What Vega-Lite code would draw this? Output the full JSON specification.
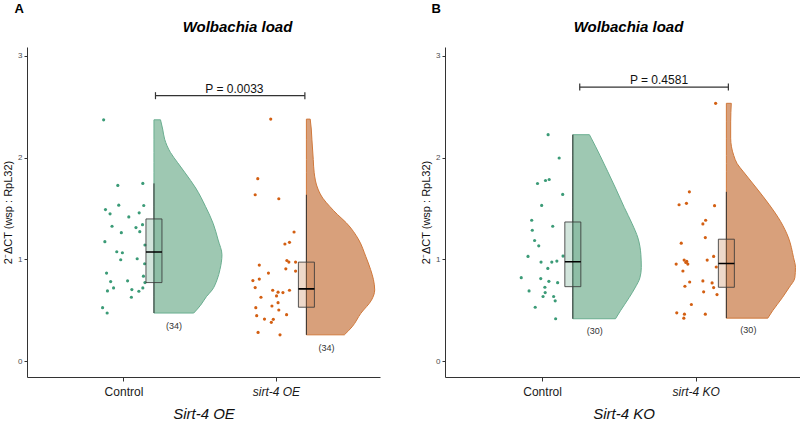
{
  "$schema": "https://vega.github.io/schema/vega-lite/v6.json",
  "background": "white",
  "padding": {"left": 2, "top": 3, "right": 2, "bottom": 2},
  "spacing": 40,
  "config": {
    "view": {"stroke": null},
    "font": "Liberation Sans",
    "axis": {"domainColor": "#333333", "tickColor": "#333333", "grid": false, "labelFont": "Liberation Sans", "titleFont": "Liberation Sans", "titleColor": "#111111"},
    "title": {"font": "Liberation Sans", "color": "#000000"}
  },
  "resolve": {"scale": {"x": "independent", "y": "independent", "color": "independent", "fill": "independent"}},
  "datasets": {
    "points": [
      {"panel": "A", "group": "Control", "jitter_x": 0.870, "y": 2.370},
      {"panel": "A", "group": "Control", "jitter_x": 0.963, "y": 1.726},
      {"panel": "A", "group": "Control", "jitter_x": 1.127, "y": 1.746},
      {"panel": "A", "group": "Control", "jitter_x": 0.969, "y": 1.532},
      {"panel": "A", "group": "Control", "jitter_x": 1.133, "y": 1.529},
      {"panel": "A", "group": "Control", "jitter_x": 0.882, "y": 1.489},
      {"panel": "A", "group": "Control", "jitter_x": 0.912, "y": 1.447},
      {"panel": "A", "group": "Control", "jitter_x": 1.103, "y": 1.457},
      {"panel": "A", "group": "Control", "jitter_x": 1.035, "y": 1.417},
      {"panel": "A", "group": "Control", "jitter_x": 1.125, "y": 1.341},
      {"panel": "A", "group": "Control", "jitter_x": 0.925, "y": 1.325},
      {"panel": "A", "group": "Control", "jitter_x": 1.082, "y": 1.312},
      {"panel": "A", "group": "Control", "jitter_x": 1.107, "y": 1.272},
      {"panel": "A", "group": "Control", "jitter_x": 0.986, "y": 1.262},
      {"panel": "A", "group": "Control", "jitter_x": 0.878, "y": 1.174},
      {"panel": "A", "group": "Control", "jitter_x": 1.141, "y": 1.141},
      {"panel": "A", "group": "Control", "jitter_x": 0.956, "y": 1.075},
      {"panel": "A", "group": "Control", "jitter_x": 0.993, "y": 1.065},
      {"panel": "A", "group": "Control", "jitter_x": 1.090, "y": 1.006},
      {"panel": "A", "group": "Control", "jitter_x": 0.982, "y": 0.996},
      {"panel": "A", "group": "Control", "jitter_x": 1.139, "y": 0.957},
      {"panel": "A", "group": "Control", "jitter_x": 0.889, "y": 0.865},
      {"panel": "A", "group": "Control", "jitter_x": 1.131, "y": 0.835},
      {"panel": "A", "group": "Control", "jitter_x": 0.916, "y": 0.782},
      {"panel": "A", "group": "Control", "jitter_x": 1.027, "y": 0.789},
      {"panel": "A", "group": "Control", "jitter_x": 1.141, "y": 0.772},
      {"panel": "A", "group": "Control", "jitter_x": 0.935, "y": 0.720},
      {"panel": "A", "group": "Control", "jitter_x": 1.127, "y": 0.720},
      {"panel": "A", "group": "Control", "jitter_x": 0.895, "y": 0.690},
      {"panel": "A", "group": "Control", "jitter_x": 1.055, "y": 0.703},
      {"panel": "A", "group": "Control", "jitter_x": 1.101, "y": 0.687},
      {"panel": "A", "group": "Control", "jitter_x": 1.052, "y": 0.628},
      {"panel": "A", "group": "Control", "jitter_x": 0.863, "y": 0.526},
      {"panel": "A", "group": "Control", "jitter_x": 0.893, "y": 0.473},
      {"panel": "A", "group": "Mutant", "jitter_x": 1.966, "y": 2.377},
      {"panel": "A", "group": "Mutant", "jitter_x": 1.881, "y": 1.792},
      {"panel": "A", "group": "Mutant", "jitter_x": 1.864, "y": 1.634},
      {"panel": "A", "group": "Mutant", "jitter_x": 2.019, "y": 1.595},
      {"panel": "A", "group": "Mutant", "jitter_x": 2.119, "y": 1.269},
      {"panel": "A", "group": "Mutant", "jitter_x": 2.089, "y": 1.167},
      {"panel": "A", "group": "Mutant", "jitter_x": 2.059, "y": 1.151},
      {"panel": "A", "group": "Mutant", "jitter_x": 2.072, "y": 0.989},
      {"panel": "A", "group": "Mutant", "jitter_x": 2.085, "y": 0.973},
      {"panel": "A", "group": "Mutant", "jitter_x": 2.129, "y": 0.973},
      {"panel": "A", "group": "Mutant", "jitter_x": 1.891, "y": 0.944},
      {"panel": "A", "group": "Mutant", "jitter_x": 2.065, "y": 0.907},
      {"panel": "A", "group": "Mutant", "jitter_x": 2.129, "y": 0.885},
      {"panel": "A", "group": "Mutant", "jitter_x": 1.951, "y": 0.865},
      {"panel": "A", "group": "Mutant", "jitter_x": 1.891, "y": 0.806},
      {"panel": "A", "group": "Mutant", "jitter_x": 1.849, "y": 0.792},
      {"panel": "A", "group": "Mutant", "jitter_x": 1.864, "y": 0.723},
      {"panel": "A", "group": "Mutant", "jitter_x": 1.979, "y": 0.697},
      {"panel": "A", "group": "Mutant", "jitter_x": 2.014, "y": 0.678},
      {"panel": "A", "group": "Mutant", "jitter_x": 2.046, "y": 0.674},
      {"panel": "A", "group": "Mutant", "jitter_x": 2.089, "y": 0.697},
      {"panel": "A", "group": "Mutant", "jitter_x": 2.004, "y": 0.641},
      {"panel": "A", "group": "Mutant", "jitter_x": 1.902, "y": 0.628},
      {"panel": "A", "group": "Mutant", "jitter_x": 2.014, "y": 0.575},
      {"panel": "A", "group": "Mutant", "jitter_x": 1.974, "y": 0.542},
      {"panel": "A", "group": "Mutant", "jitter_x": 1.868, "y": 0.526},
      {"panel": "A", "group": "Mutant", "jitter_x": 2.019, "y": 0.503},
      {"panel": "A", "group": "Mutant", "jitter_x": 1.874, "y": 0.447},
      {"panel": "A", "group": "Mutant", "jitter_x": 2.070, "y": 0.457},
      {"panel": "A", "group": "Mutant", "jitter_x": 1.925, "y": 0.414},
      {"panel": "A", "group": "Mutant", "jitter_x": 1.983, "y": 0.411},
      {"panel": "A", "group": "Mutant", "jitter_x": 1.970, "y": 0.382},
      {"panel": "A", "group": "Mutant", "jitter_x": 1.883, "y": 0.283},
      {"panel": "A", "group": "Mutant", "jitter_x": 2.027, "y": 0.259},
      {"panel": "B", "group": "Control", "jitter_x": 1.039, "y": 2.224},
      {"panel": "B", "group": "Control", "jitter_x": 1.111, "y": 1.995},
      {"panel": "B", "group": "Control", "jitter_x": 0.970, "y": 1.745},
      {"panel": "B", "group": "Control", "jitter_x": 1.022, "y": 1.774},
      {"panel": "B", "group": "Control", "jitter_x": 1.046, "y": 1.784},
      {"panel": "B", "group": "Control", "jitter_x": 1.134, "y": 1.638},
      {"panel": "B", "group": "Control", "jitter_x": 0.997, "y": 1.530},
      {"panel": "B", "group": "Control", "jitter_x": 0.932, "y": 1.384},
      {"panel": "B", "group": "Control", "jitter_x": 1.069, "y": 1.325},
      {"panel": "B", "group": "Control", "jitter_x": 0.936, "y": 1.286},
      {"panel": "B", "group": "Control", "jitter_x": 0.951, "y": 1.185},
      {"panel": "B", "group": "Control", "jitter_x": 0.978, "y": 1.133},
      {"panel": "B", "group": "Control", "jitter_x": 0.908, "y": 1.029},
      {"panel": "B", "group": "Control", "jitter_x": 1.136, "y": 1.032},
      {"panel": "B", "group": "Control", "jitter_x": 0.993, "y": 0.973},
      {"panel": "B", "group": "Control", "jitter_x": 1.063, "y": 0.973},
      {"panel": "B", "group": "Control", "jitter_x": 1.096, "y": 0.983},
      {"panel": "B", "group": "Control", "jitter_x": 1.037, "y": 0.911},
      {"panel": "B", "group": "Control", "jitter_x": 0.864, "y": 0.820},
      {"panel": "B", "group": "Control", "jitter_x": 0.991, "y": 0.811},
      {"panel": "B", "group": "Control", "jitter_x": 1.044, "y": 0.784},
      {"panel": "B", "group": "Control", "jitter_x": 1.101, "y": 0.771},
      {"panel": "B", "group": "Control", "jitter_x": 1.018, "y": 0.726},
      {"panel": "B", "group": "Control", "jitter_x": 0.915, "y": 0.690},
      {"panel": "B", "group": "Control", "jitter_x": 1.020, "y": 0.674},
      {"panel": "B", "group": "Control", "jitter_x": 1.006, "y": 0.635},
      {"panel": "B", "group": "Control", "jitter_x": 1.075, "y": 0.635},
      {"panel": "B", "group": "Control", "jitter_x": 1.085, "y": 0.593},
      {"panel": "B", "group": "Control", "jitter_x": 0.955, "y": 0.530},
      {"panel": "B", "group": "Control", "jitter_x": 1.088, "y": 0.417},
      {"panel": "B", "group": "Mutant", "jitter_x": 2.130, "y": 2.532},
      {"panel": "B", "group": "Mutant", "jitter_x": 1.959, "y": 1.663},
      {"panel": "B", "group": "Mutant", "jitter_x": 1.892, "y": 1.536},
      {"panel": "B", "group": "Mutant", "jitter_x": 1.940, "y": 1.550},
      {"panel": "B", "group": "Mutant", "jitter_x": 2.123, "y": 1.527},
      {"panel": "B", "group": "Mutant", "jitter_x": 2.065, "y": 1.384},
      {"panel": "B", "group": "Mutant", "jitter_x": 2.047, "y": 1.348},
      {"panel": "B", "group": "Mutant", "jitter_x": 2.063, "y": 1.214},
      {"panel": "B", "group": "Mutant", "jitter_x": 1.906, "y": 1.159},
      {"panel": "B", "group": "Mutant", "jitter_x": 2.117, "y": 1.029},
      {"panel": "B", "group": "Mutant", "jitter_x": 1.925, "y": 0.993},
      {"panel": "B", "group": "Mutant", "jitter_x": 2.075, "y": 0.993},
      {"panel": "B", "group": "Mutant", "jitter_x": 1.873, "y": 0.954},
      {"panel": "B", "group": "Mutant", "jitter_x": 1.942, "y": 0.980},
      {"panel": "B", "group": "Mutant", "jitter_x": 1.949, "y": 0.954},
      {"panel": "B", "group": "Mutant", "jitter_x": 1.936, "y": 0.970},
      {"panel": "B", "group": "Mutant", "jitter_x": 2.134, "y": 0.925},
      {"panel": "B", "group": "Mutant", "jitter_x": 1.917, "y": 0.886},
      {"panel": "B", "group": "Mutant", "jitter_x": 1.961, "y": 0.778},
      {"panel": "B", "group": "Mutant", "jitter_x": 2.047, "y": 0.788},
      {"panel": "B", "group": "Mutant", "jitter_x": 2.107, "y": 0.769},
      {"panel": "B", "group": "Mutant", "jitter_x": 1.930, "y": 0.736},
      {"panel": "B", "group": "Mutant", "jitter_x": 2.117, "y": 0.723},
      {"panel": "B", "group": "Mutant", "jitter_x": 2.052, "y": 0.681},
      {"panel": "B", "group": "Mutant", "jitter_x": 2.139, "y": 0.654},
      {"panel": "B", "group": "Mutant", "jitter_x": 1.972, "y": 0.557},
      {"panel": "B", "group": "Mutant", "jitter_x": 1.877, "y": 0.475},
      {"panel": "B", "group": "Mutant", "jitter_x": 1.927, "y": 0.462},
      {"panel": "B", "group": "Mutant", "jitter_x": 2.063, "y": 0.462},
      {"panel": "B", "group": "Mutant", "jitter_x": 1.923, "y": 0.423}
    ],
    "violin": [
      {"panel": "A", "group": "Control", "y": 0.473, "xr": 1.461},
      {"panel": "A", "group": "Control", "y": 0.55, "xr": 1.506},
      {"panel": "A", "group": "Control", "y": 0.634, "xr": 1.544},
      {"panel": "A", "group": "Control", "y": 0.70, "xr": 1.582},
      {"panel": "A", "group": "Control", "y": 0.80, "xr": 1.614},
      {"panel": "A", "group": "Control", "y": 0.90, "xr": 1.633},
      {"panel": "A", "group": "Control", "y": 1.045, "xr": 1.646},
      {"panel": "A", "group": "Control", "y": 1.19, "xr": 1.621},
      {"panel": "A", "group": "Control", "y": 1.35, "xr": 1.589},
      {"panel": "A", "group": "Control", "y": 1.52, "xr": 1.538},
      {"panel": "A", "group": "Control", "y": 1.70, "xr": 1.474},
      {"panel": "A", "group": "Control", "y": 1.85, "xr": 1.404},
      {"panel": "A", "group": "Control", "y": 1.95, "xr": 1.355},
      {"panel": "A", "group": "Control", "y": 2.05, "xr": 1.308},
      {"panel": "A", "group": "Control", "y": 2.18, "xr": 1.270},
      {"panel": "A", "group": "Control", "y": 2.28, "xr": 1.257},
      {"panel": "A", "group": "Control", "y": 2.37, "xr": 1.243},
      {"panel": "A", "group": "Mutant", "y": 0.259, "xr": 2.449},
      {"panel": "A", "group": "Mutant", "y": 0.338, "xr": 2.500},
      {"panel": "A", "group": "Mutant", "y": 0.47, "xr": 2.557},
      {"panel": "A", "group": "Mutant", "y": 0.60, "xr": 2.627},
      {"panel": "A", "group": "Mutant", "y": 0.70, "xr": 2.648},
      {"panel": "A", "group": "Mutant", "y": 0.80, "xr": 2.640},
      {"panel": "A", "group": "Mutant", "y": 0.90, "xr": 2.621},
      {"panel": "A", "group": "Mutant", "y": 1.03, "xr": 2.589},
      {"panel": "A", "group": "Mutant", "y": 1.19, "xr": 2.544},
      {"panel": "A", "group": "Mutant", "y": 1.36, "xr": 2.461},
      {"panel": "A", "group": "Mutant", "y": 1.44, "xr": 2.404},
      {"panel": "A", "group": "Mutant", "y": 1.52, "xr": 2.353},
      {"panel": "A", "group": "Mutant", "y": 1.60, "xr": 2.308},
      {"panel": "A", "group": "Mutant", "y": 1.69, "xr": 2.276},
      {"panel": "A", "group": "Mutant", "y": 1.85, "xr": 2.251},
      {"panel": "A", "group": "Mutant", "y": 1.98, "xr": 2.245},
      {"panel": "A", "group": "Mutant", "y": 2.18, "xr": 2.236},
      {"panel": "A", "group": "Mutant", "y": 2.28, "xr": 2.232},
      {"panel": "A", "group": "Mutant", "y": 2.377, "xr": 2.225},
      {"panel": "B", "group": "Control", "y": 0.417, "xr": 1.478},
      {"panel": "B", "group": "Control", "y": 0.495, "xr": 1.510},
      {"panel": "B", "group": "Control", "y": 0.625, "xr": 1.567},
      {"panel": "B", "group": "Control", "y": 0.72, "xr": 1.605},
      {"panel": "B", "group": "Control", "y": 0.82, "xr": 1.637},
      {"panel": "B", "group": "Control", "y": 0.92, "xr": 1.646},
      {"panel": "B", "group": "Control", "y": 1.05, "xr": 1.643},
      {"panel": "B", "group": "Control", "y": 1.21, "xr": 1.624},
      {"panel": "B", "group": "Control", "y": 1.35, "xr": 1.586},
      {"panel": "B", "group": "Control", "y": 1.51, "xr": 1.535},
      {"panel": "B", "group": "Control", "y": 1.70, "xr": 1.478},
      {"panel": "B", "group": "Control", "y": 1.86, "xr": 1.428},
      {"panel": "B", "group": "Control", "y": 2.02, "xr": 1.377},
      {"panel": "B", "group": "Control", "y": 2.19, "xr": 1.320},
      {"panel": "B", "group": "Control", "y": 2.224, "xr": 1.308},
      {"panel": "B", "group": "Mutant", "y": 0.423, "xr": 2.470},
      {"panel": "B", "group": "Mutant", "y": 0.495, "xr": 2.501},
      {"panel": "B", "group": "Mutant", "y": 0.625, "xr": 2.565},
      {"panel": "B", "group": "Mutant", "y": 0.72, "xr": 2.607},
      {"panel": "B", "group": "Mutant", "y": 0.82, "xr": 2.646},
      {"panel": "B", "group": "Mutant", "y": 0.92, "xr": 2.650},
      {"panel": "B", "group": "Mutant", "y": 1.02, "xr": 2.637},
      {"panel": "B", "group": "Mutant", "y": 1.21, "xr": 2.605},
      {"panel": "B", "group": "Mutant", "y": 1.37, "xr": 2.554},
      {"panel": "B", "group": "Mutant", "y": 1.54, "xr": 2.478},
      {"panel": "B", "group": "Mutant", "y": 1.70, "xr": 2.396},
      {"panel": "B", "group": "Mutant", "y": 1.86, "xr": 2.311},
      {"panel": "B", "group": "Mutant", "y": 1.94, "xr": 2.270},
      {"panel": "B", "group": "Mutant", "y": 2.02, "xr": 2.248},
      {"panel": "B", "group": "Mutant", "y": 2.19, "xr": 2.228},
      {"panel": "B", "group": "Mutant", "y": 2.35, "xr": 2.228},
      {"panel": "B", "group": "Mutant", "y": 2.532, "xr": 2.232}
    ],
    "summary": [
      {"panel": "A", "group": "Control", "pos": 1.2, "lower": 0.473, "q1": 0.772, "median": 1.072, "q3": 1.397, "upper": 1.746, "n": "(34)"},
      {"panel": "A", "group": "Mutant", "pos": 2.2, "lower": 0.259, "q1": 0.530, "median": 0.710, "q3": 0.973, "upper": 1.634, "n": "(34)"},
      {"panel": "B", "group": "Control", "pos": 1.2, "lower": 0.417, "q1": 0.732, "median": 0.977, "q3": 1.367, "upper": 2.224, "n": "(30)"},
      {"panel": "B", "group": "Mutant", "pos": 2.2, "lower": 0.423, "q1": 0.726, "median": 0.960, "q3": 1.198, "upper": 1.663, "n": "(30)"}
    ],
    "pval": [
      {"panel": "A", "xa": 1.21, "xb": 2.19, "xmid": 1.728, "y": 2.607, "label": "P = 0.0033"},
      {"panel": "B", "xa": 1.245, "xb": 2.213, "xmid": 1.761, "y": 2.692, "label": "P = 0.4581"}
    ]
  },
  "hconcat": [
    {
      "title": {"text": "A", "anchor": "start", "frame": "bounds", "fontSize": 13, "fontWeight": "bold", "dx": 12, "offset": 4},
      "vconcat": [
        {
          "title": {"text": "Wolbachia load", "anchor": "middle", "frame": "group", "fontSize": 15, "fontWeight": "bold", "fontStyle": "italic", "dx": 34, "offset": 12},
          "width": 353,
          "height": 330,
          "layer": [
            {
              "data": {"name": "violin"},
              "transform": [{"filter": "datum.panel == 'A' && datum.group == 'Control'"}],
              "mark": {"type": "area", "orient": "horizontal", "interpolate": "monotone", "fill": "#9ec8b2", "stroke": "#6aae90", "strokeWidth": 1},
              "encoding": {
                "y": {"field": "y", "type": "quantitative", "scale": {"domain": [-0.155, 3.085], "nice": false, "zero": false},
                  "axis": {"values": [0, 1, 2, 3], "format": "d", "title": "2⁻ΔCT (wsp : RpL32)", "titleFontSize": 11, "titleFontWeight": "normal", "labelFontSize": 8, "labelColor": "#4d4d4d", "tickSize": 3, "labelPadding": 2, "titlePadding": 4}},
                "x": {"field": "xr", "type": "quantitative", "scale": {"domain": [0.4, 2.65], "nice": false, "zero": false},
                  "axis": {"values": [1, 2], "labelExpr": "datum.value == 1 ? 'Control' : 'sirt-4 OE'", "labelFontStyle": {"condition": {"test": "datum.value == 2", "value": "italic"}, "value": "normal"}, "labelFontSize": 12, "labelColor": "#1a1a1a", "tickSize": 4, "labelPadding": 5, "title": "Sirt-4 OE", "titleFontSize": 15, "titleFontWeight": "normal", "titleFontStyle": "italic", "titlePadding": 9}},
                "x2": {"datum": 1.2}
              }
            },
            {
              "data": {"name": "violin"},
              "transform": [{"filter": "datum.panel == 'A' && datum.group == 'Mutant'"}],
              "mark": {"type": "area", "orient": "horizontal", "interpolate": "monotone", "fill": "#d8a07b", "stroke": "#d0793c", "strokeWidth": 1},
              "encoding": {
                "y": {"field": "y", "type": "quantitative"},
                "x": {"field": "xr", "type": "quantitative"},
                "x2": {"datum": 2.2}
              }
            },
            {
              "data": {"name": "points"},
              "transform": [{"filter": "datum.panel == 'A'"}],
              "mark": {"type": "circle", "size": 10, "opacity": 1},
              "encoding": {
                "x": {"field": "jitter_x", "type": "quantitative"},
                "y": {"field": "y", "type": "quantitative"},
                "color": {"field": "group", "type": "nominal", "scale": {"domain": ["Control", "Mutant"], "range": ["#3b9b77", "#d35f12"]}, "legend": null}
              }
            },
            {
              "data": {"name": "summary"},
              "transform": [{"filter": "datum.panel == 'A'"}],
              "mark": {"type": "rule", "color": "#333333", "strokeWidth": 1},
              "encoding": {
                "x": {"field": "pos", "type": "quantitative"},
                "y": {"field": "lower", "type": "quantitative"},
                "y2": {"field": "upper"}
              }
            },
            {
              "data": {"name": "summary"},
              "transform": [{"filter": "datum.panel == 'A'"}],
              "mark": {"type": "bar", "size": 16, "fillOpacity": 0.3, "stroke": "#3a3a3a", "strokeWidth": 1, "strokeOpacity": 0.85},
              "encoding": {
                "x": {"field": "pos", "type": "quantitative"},
                "y": {"field": "q1", "type": "quantitative"},
                "y2": {"field": "q3"},
                "fill": {"field": "group", "type": "nominal", "scale": {"domain": ["Control", "Mutant"], "range": ["#6aa88c", "#c8804f"]}, "legend": null}
              }
            },
            {
              "data": {"name": "summary"},
              "transform": [{"filter": "datum.panel == 'A'"}],
              "mark": {"type": "bar", "size": 16, "fill": null, "stroke": "#000000", "strokeWidth": 1.6},
              "encoding": {
                "x": {"field": "pos", "type": "quantitative"},
                "y": {"field": "median", "type": "quantitative"},
                "y2": {"field": "median"}
              }
            },
            {
              "data": {"name": "summary"},
              "transform": [{"filter": "datum.panel == 'A'"}],
              "mark": {"type": "text", "fontSize": 9, "color": "#333333", "dx": 20, "dy": 13, "align": "center", "baseline": "middle"},
              "encoding": {
                "x": {"field": "pos", "type": "quantitative"},
                "y": {"field": "lower", "type": "quantitative"},
                "text": {"field": "n"}
              }
            },
            {
              "data": {"name": "pval"},
              "transform": [{"filter": "datum.panel == 'A'"}],
              "mark": {"type": "rule", "color": "#333333", "strokeWidth": 1.2},
              "encoding": {
                "x": {"field": "xa", "type": "quantitative"},
                "x2": {"field": "xb"},
                "y": {"field": "y", "type": "quantitative"}
              }
            },
            {
              "data": {"name": "pval"},
              "transform": [{"filter": "datum.panel == 'A'"}],
              "mark": {"type": "tick", "orient": "vertical", "size": 7, "thickness": 1.2, "color": "#333333", "opacity": 1},
              "encoding": {
                "x": {"field": "xa", "type": "quantitative"},
                "y": {"field": "y", "type": "quantitative"}
              }
            },
            {
              "data": {"name": "pval"},
              "transform": [{"filter": "datum.panel == 'A'"}],
              "mark": {"type": "tick", "orient": "vertical", "size": 7, "thickness": 1.2, "color": "#333333", "opacity": 1},
              "encoding": {
                "x": {"field": "xb", "type": "quantitative"},
                "y": {"field": "y", "type": "quantitative"}
              }
            },
            {
              "data": {"name": "pval"},
              "transform": [{"filter": "datum.panel == 'A'"}],
              "mark": {"type": "text", "fontSize": 12, "color": "#111111", "dy": -3, "align": "center", "baseline": "alphabetic"},
              "encoding": {
                "x": {"field": "xmid", "type": "quantitative"},
                "y": {"field": "y", "type": "quantitative"},
                "text": {"field": "label"}
              }
            }
          ]
        }
      ]
    },
    {
      "title": {"text": "B", "anchor": "start", "frame": "bounds", "fontSize": 13, "fontWeight": "bold", "dx": 11, "offset": 4},
      "vconcat": [
        {
          "title": {"text": "Wolbachia load", "anchor": "middle", "frame": "group", "fontSize": 15, "fontWeight": "bold", "fontStyle": "italic", "dx": 5, "offset": 12},
          "width": 357,
          "height": 330,
          "layer": [
            {
              "data": {"name": "violin"},
              "transform": [{"filter": "datum.panel == 'B' && datum.group == 'Control'"}],
              "mark": {"type": "area", "orient": "horizontal", "interpolate": "monotone", "fill": "#9ec8b2", "stroke": "#6aae90", "strokeWidth": 1},
              "encoding": {
                "y": {"field": "y", "type": "quantitative", "scale": {"domain": [-0.155, 3.085], "nice": false, "zero": false},
                  "axis": {"values": [0, 1, 2, 3], "format": "d", "title": "2⁻ΔCT (wsp : RpL32)", "titleFontSize": 11, "titleFontWeight": "normal", "labelFontSize": 8, "labelColor": "#4d4d4d", "tickSize": 3, "labelPadding": 2, "titlePadding": 4}},
                "x": {"field": "xr", "type": "quantitative", "scale": {"domain": [0.4, 2.66], "nice": false, "zero": false},
                  "axis": {"values": [1, 2], "labelExpr": "datum.value == 1 ? 'Control' : 'sirt-4 KO'", "labelFontStyle": {"condition": {"test": "datum.value == 2", "value": "italic"}, "value": "normal"}, "labelFontSize": 12, "labelColor": "#1a1a1a", "tickSize": 4, "labelPadding": 5, "title": "Sirt-4 KO", "titleFontSize": 15, "titleFontWeight": "normal", "titleFontStyle": "italic", "titlePadding": 9}},
                "x2": {"datum": 1.2}
              }
            },
            {
              "data": {"name": "violin"},
              "transform": [{"filter": "datum.panel == 'B' && datum.group == 'Mutant'"}],
              "mark": {"type": "area", "orient": "horizontal", "interpolate": "monotone", "fill": "#d8a07b", "stroke": "#d0793c", "strokeWidth": 1},
              "encoding": {
                "y": {"field": "y", "type": "quantitative"},
                "x": {"field": "xr", "type": "quantitative"},
                "x2": {"datum": 2.2}
              }
            },
            {
              "data": {"name": "points"},
              "transform": [{"filter": "datum.panel == 'B'"}],
              "mark": {"type": "circle", "size": 10, "opacity": 1},
              "encoding": {
                "x": {"field": "jitter_x", "type": "quantitative"},
                "y": {"field": "y", "type": "quantitative"},
                "color": {"field": "group", "type": "nominal", "scale": {"domain": ["Control", "Mutant"], "range": ["#3b9b77", "#d35f12"]}, "legend": null}
              }
            },
            {
              "data": {"name": "summary"},
              "transform": [{"filter": "datum.panel == 'B'"}],
              "mark": {"type": "rule", "color": "#333333", "strokeWidth": 1},
              "encoding": {
                "x": {"field": "pos", "type": "quantitative"},
                "y": {"field": "lower", "type": "quantitative"},
                "y2": {"field": "upper"}
              }
            },
            {
              "data": {"name": "summary"},
              "transform": [{"filter": "datum.panel == 'B'"}],
              "mark": {"type": "bar", "size": 16, "fillOpacity": 0.3, "stroke": "#3a3a3a", "strokeWidth": 1, "strokeOpacity": 0.85},
              "encoding": {
                "x": {"field": "pos", "type": "quantitative"},
                "y": {"field": "q1", "type": "quantitative"},
                "y2": {"field": "q3"},
                "fill": {"field": "group", "type": "nominal", "scale": {"domain": ["Control", "Mutant"], "range": ["#6aa88c", "#c8804f"]}, "legend": null}
              }
            },
            {
              "data": {"name": "summary"},
              "transform": [{"filter": "datum.panel == 'B'"}],
              "mark": {"type": "bar", "size": 16, "fill": null, "stroke": "#000000", "strokeWidth": 1.6},
              "encoding": {
                "x": {"field": "pos", "type": "quantitative"},
                "y": {"field": "median", "type": "quantitative"},
                "y2": {"field": "median"}
              }
            },
            {
              "data": {"name": "summary"},
              "transform": [{"filter": "datum.panel == 'B'"}],
              "mark": {"type": "text", "fontSize": 9, "color": "#333333", "dx": 22, "dy": 12, "align": "center", "baseline": "middle"},
              "encoding": {
                "x": {"field": "pos", "type": "quantitative"},
                "y": {"field": "lower", "type": "quantitative"},
                "text": {"field": "n"}
              }
            },
            {
              "data": {"name": "pval"},
              "transform": [{"filter": "datum.panel == 'B'"}],
              "mark": {"type": "rule", "color": "#333333", "strokeWidth": 1.2},
              "encoding": {
                "x": {"field": "xa", "type": "quantitative"},
                "x2": {"field": "xb"},
                "y": {"field": "y", "type": "quantitative"}
              }
            },
            {
              "data": {"name": "pval"},
              "transform": [{"filter": "datum.panel == 'B'"}],
              "mark": {"type": "tick", "orient": "vertical", "size": 7, "thickness": 1.2, "color": "#333333", "opacity": 1},
              "encoding": {
                "x": {"field": "xa", "type": "quantitative"},
                "y": {"field": "y", "type": "quantitative"}
              }
            },
            {
              "data": {"name": "pval"},
              "transform": [{"filter": "datum.panel == 'B'"}],
              "mark": {"type": "tick", "orient": "vertical", "size": 7, "thickness": 1.2, "color": "#333333", "opacity": 1},
              "encoding": {
                "x": {"field": "xb", "type": "quantitative"},
                "y": {"field": "y", "type": "quantitative"}
              }
            },
            {
              "data": {"name": "pval"},
              "transform": [{"filter": "datum.panel == 'B'"}],
              "mark": {"type": "text", "fontSize": 12, "color": "#111111", "dy": -3, "align": "center", "baseline": "alphabetic"},
              "encoding": {
                "x": {"field": "xmid", "type": "quantitative"},
                "y": {"field": "y", "type": "quantitative"},
                "text": {"field": "label"}
              }
            }
          ]
        }
      ]
    }
  ]
}
